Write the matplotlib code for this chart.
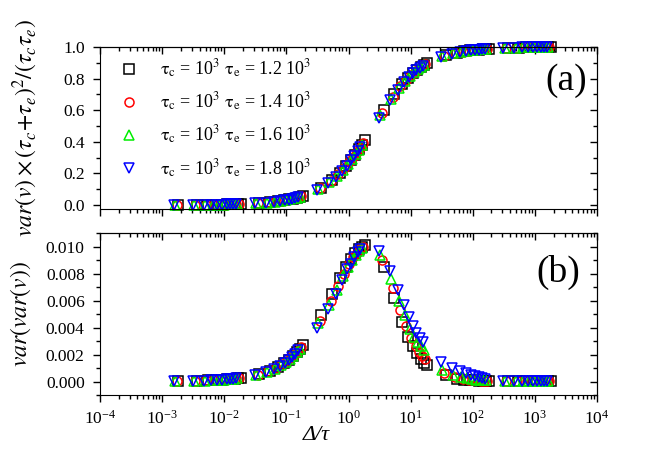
import matplotlib
matplotlib.use("Agg")
import matplotlib.pyplot as plt
from matplotlib.ticker import MultipleLocator, FormatStrFormatter, LogLocator, NullFormatter

plt.rcParams['font.family'] = ['Liberation Serif', 'DejaVu Serif']
plt.rcParams['mathtext.fontset'] = 'stix'
plt.rcParams['font.size'] = 12

labels = [r'$\mathrm{\tau_c}$ = 10$^3$ $\mathrm{\tau_e}$ = 1.2 10$^3$',
          r'$\mathrm{\tau_c}$ = 10$^3$ $\mathrm{\tau_e}$ = 1.4 10$^3$',
          r'$\mathrm{\tau_c}$ = 10$^3$ $\mathrm{\tau_e}$ = 1.6 10$^3$',
          r'$\mathrm{\tau_c}$ = 10$^3$ $\mathrm{\tau_e}$ = 1.8 10$^3$']

# x = Delta / tau for each series
x_12 = [0.00183, 0.00367, 0.0055, 0.00733, 0.00917, 0.011, 0.0128, 0.0147, 0.0165, 0.0183,
        0.0367, 0.055, 0.0733, 0.0917, 0.11, 0.128, 0.147, 0.165, 0.183,
        0.367, 0.55, 0.733, 0.917, 1.1, 1.28, 1.47, 1.65, 1.83,
        3.67, 5.5, 7.33, 9.17, 11, 12.8, 14.7, 16.5, 18.3,
        36.7, 55, 73.3, 91.7, 110, 128, 147, 165, 183,
        367, 550, 733, 917, 1100, 1280, 1470, 1650, 1830]
x_14 = [0.00171, 0.00343, 0.00514, 0.00686, 0.00857, 0.0103, 0.012, 0.0137, 0.0154, 0.0171,
        0.0343, 0.0514, 0.0686, 0.0857, 0.103, 0.12, 0.137, 0.154, 0.171,
        0.343, 0.514, 0.686, 0.857, 1.03, 1.2, 1.37, 1.54, 1.71,
        3.43, 5.14, 6.86, 8.57, 10.3, 12, 13.7, 15.4, 17.1,
        34.3, 51.4, 68.6, 85.7, 103, 120, 137, 154, 171,
        343, 514, 686, 857, 1030, 1200, 1370, 1540, 1710]
x_16 = [0.00163, 0.00325, 0.00488, 0.0065, 0.00813, 0.00975, 0.0114, 0.013, 0.0146, 0.0163,
        0.0325, 0.0488, 0.065, 0.0813, 0.0975, 0.114, 0.13, 0.146, 0.163,
        0.325, 0.488, 0.65, 0.813, 0.975, 1.14, 1.3, 1.46, 1.63,
        3.25, 4.88, 6.5, 8.13, 9.75, 11.4, 13, 14.6, 16.3,
        32.5, 48.8, 65, 81.3, 97.5, 114, 130, 146, 163,
        325, 488, 650, 813, 975, 1140, 1300, 1460, 1630]
x_18 = [0.00156, 0.00311, 0.00467, 0.00622, 0.00778, 0.00933, 0.0109, 0.0124, 0.014, 0.0156,
        0.0311, 0.0467, 0.0622, 0.0778, 0.0933, 0.109, 0.124, 0.14, 0.156,
        0.311, 0.467, 0.622, 0.778, 0.933, 1.09, 1.24, 1.4, 1.56,
        3.11, 4.67, 6.22, 7.78, 9.33, 10.9, 12.4, 14, 15.6,
        31.1, 46.7, 62.2, 77.8, 93.3, 109, 124, 140, 156,
        311, 467, 622, 778, 933, 1090, 1240, 1400, 1560]

# panel (a)
va_12 = [0.001, 0.001, 0.002, 0.002, 0.003, 0.004, 0.004, 0.005, 0.005, 0.006,
         0.012, 0.018, 0.024, 0.030, 0.036, 0.041, 0.047, 0.053, 0.058,
         0.111, 0.161, 0.206, 0.247, 0.284, 0.319, 0.352, 0.381, 0.409,
         0.599, 0.702, 0.764, 0.806, 0.835, 0.856, 0.873, 0.886, 0.897,
         0.947, 0.964, 0.973, 0.978, 0.982, 0.984, 0.986, 0.988, 0.989,
         0.995, 0.996, 0.997, 0.998, 0.998, 0.998, 0.999, 0.999, 0.999]
va_14 = [0.001, 0.001, 0.002, 0.002, 0.003, 0.003, 0.004, 0.005, 0.005, 0.006,
         0.011, 0.017, 0.023, 0.028, 0.033, 0.039, 0.044, 0.050, 0.055,
         0.105, 0.152, 0.194, 0.234, 0.270, 0.304, 0.335, 0.364, 0.391,
         0.581, 0.686, 0.751, 0.794, 0.825, 0.847, 0.865, 0.879, 0.890,
         0.943, 0.962, 0.971, 0.977, 0.981, 0.983, 0.986, 0.987, 0.988,
         0.994, 0.996, 0.997, 0.998, 0.998, 0.998, 0.999, 0.999, 0.999]
va_16 = [0.001, 0.001, 0.002, 0.002, 0.003, 0.003, 0.004, 0.004, 0.005, 0.005,
         0.011, 0.016, 0.021, 0.027, 0.032, 0.037, 0.042, 0.047, 0.052,
         0.100, 0.145, 0.186, 0.224, 0.259, 0.292, 0.322, 0.351, 0.377,
         0.567, 0.673, 0.740, 0.784, 0.816, 0.840, 0.858, 0.873, 0.885,
         0.940, 0.960, 0.970, 0.976, 0.980, 0.983, 0.985, 0.986, 0.988,
         0.994, 0.996, 0.997, 0.998, 0.998, 0.998, 0.998, 0.999, 0.999]
va_18 = [0.001, 0.001, 0.002, 0.002, 0.003, 0.003, 0.004, 0.004, 0.005, 0.005,
         0.010, 0.015, 0.020, 0.025, 0.030, 0.035, 0.040, 0.045, 0.050,
         0.096, 0.139, 0.179, 0.216, 0.250, 0.282, 0.312, 0.340, 0.366,
         0.554, 0.663, 0.730, 0.776, 0.809, 0.833, 0.852, 0.867, 0.880,
         0.938, 0.958, 0.968, 0.975, 0.979, 0.982, 0.984, 0.986, 0.987,
         0.994, 0.996, 0.997, 0.997, 0.998, 0.998, 0.998, 0.999, 0.999]

# panel (b)
vv_12 = [0.00003, 0.00005, 0.00008, 0.00011, 0.00014, 0.00016, 0.00019, 0.00022, 0.00024, 0.00027,
         0.00054, 0.00081, 0.00108, 0.00136, 0.00163, 0.0019, 0.00217, 0.00244, 0.0027,
         0.0049, 0.0065, 0.0077, 0.0085, 0.0091, 0.0095, 0.0098, 0.0100, 0.0101,
         0.00845, 0.00615, 0.0044, 0.0033, 0.0026, 0.0021, 0.00165, 0.00135, 0.00123,
         0.00045, 0.00022, 0.00014, 0.0001, 0.00008, 0.00006, 0.00005, 0.00004, 0.00004,
         0.00003, 0.00003, 0.00002, 0.00002, 0.00002, 0.00002, 0.00002, 0.00002, 0.00002]
vv_14 = [0.00003, 0.00005, 0.00008, 0.0001, 0.00013, 0.00015, 0.00018, 0.0002, 0.00023, 0.00025,
         0.00051, 0.00076, 0.00102, 0.00127, 0.00152, 0.00178, 0.00203, 0.00228, 0.00253,
         0.0045, 0.0060, 0.0071, 0.0080, 0.0087, 0.0092, 0.0095, 0.0098, 0.0100,
         0.0090, 0.0069, 0.0053, 0.0041, 0.0032, 0.0026, 0.0022, 0.0019, 0.0017,
         0.00066, 0.00033, 0.0002, 0.00014, 0.0001, 0.00008, 0.00007, 0.00006, 0.00005,
         0.00003, 0.00003, 0.00003, 0.00003, 0.00002, 0.00002, 0.00002, 0.00002, 0.00002]
vv_16 = [0.00002, 0.00005, 0.00007, 0.0001, 0.00012, 0.00014, 0.00017, 0.00019, 0.00022, 0.00024,
         0.00048, 0.00072, 0.00096, 0.0012, 0.00144, 0.00168, 0.00192, 0.00216, 0.0024,
         0.0043, 0.0057, 0.0068, 0.0078, 0.0085, 0.0090, 0.0094, 0.0097, 0.0099,
         0.0094, 0.0076, 0.0060, 0.0049, 0.0039, 0.0033, 0.0029, 0.0026, 0.0023,
         0.00088, 0.0005, 0.00033, 0.00024, 0.00018, 0.00014, 0.00011, 0.00009, 0.00008,
         0.00004, 0.00004, 0.00003, 0.00003, 0.00003, 0.00003, 0.00003, 0.00002, 0.00002]
vv_18 = [0.00002, 0.00005, 0.00007, 0.00009, 0.00012, 0.00014, 0.00016, 0.00018, 0.00021, 0.00023,
         0.00046, 0.00069, 0.00092, 0.00115, 0.00138, 0.00161, 0.00184, 0.00207, 0.0023,
         0.0040, 0.0054, 0.0065, 0.0075, 0.0083, 0.0087, 0.0092, 0.0096, 0.0098,
         0.0097, 0.0082, 0.0068, 0.0057, 0.0048, 0.0041, 0.0036, 0.0032, 0.0029,
         0.00147, 0.00103, 0.00079, 0.00063, 0.0005, 0.00042, 0.00034, 0.00027, 0.00022,
         0.00006, 0.00005, 0.00005, 0.00004, 0.00004, 0.00004, 0.00003, 0.00003, 0.00003]

xs = [x_12, x_14, x_16, x_18]
vas = [va_12, va_14, va_16, va_18]
vvs = [vv_12, vv_14, vv_16, vv_18]
markers = ['s', 'o', '^', 'v']
colors = ['black', 'red', '#00ee00', 'blue']

fig = plt.figure(figsize=(6.64, 4.65), dpi=100)
ax1 = fig.add_axes([0.1506, 0.5505, 0.7485, 0.3484])
ax2 = fig.add_axes([0.1506, 0.1505, 0.7485, 0.3484], sharex=ax1)

for x, ya, yb, m, c, lab in zip(xs, vas, vvs, markers, colors, labels):
    ax1.plot(x, ya, ls='none', marker=m, ms=6.5, mfc='none', mec=c, mew=1.1, label=lab, clip_on=False)
    ax2.plot(x, yb, ls='none', marker=m, ms=6.5, mfc='none', mec=c, mew=1.1, clip_on=False)

ax1.set_xscale('log')
ax1.set_xlim(1e-4, 1e4)
ax1.set_ylim(-0.025, 1.0)
ax2.set_ylim(-0.001, 0.011)

ax1.yaxis.set_major_locator(MultipleLocator(0.2))
ax1.yaxis.set_minor_locator(MultipleLocator(0.1))
ax1.yaxis.set_major_formatter(FormatStrFormatter('%.1f'))
ax2.yaxis.set_major_locator(MultipleLocator(0.002))
ax2.yaxis.set_minor_locator(MultipleLocator(0.001))
ax2.yaxis.set_major_formatter(FormatStrFormatter('%.3f'))

for ax in (ax1, ax2):
    ax.xaxis.set_major_locator(LogLocator(base=10, numticks=20))
    ax.xaxis.set_minor_locator(LogLocator(base=10, subs=range(2, 10), numticks=20))
    ax.xaxis.set_minor_formatter(NullFormatter())
    ax.tick_params(which='major', direction='out', length=5, width=1, labelsize=12.5, pad=6)
    ax.tick_params(which='minor', direction='out', length=3, width=1)
    top = ax.secondary_xaxis('top')
    top.xaxis.set_major_locator(LogLocator(base=10, numticks=20))
    top.xaxis.set_minor_locator(LogLocator(base=10, subs=range(2, 10), numticks=20))
    top.tick_params(which='major', direction='in', length=5, width=1, labeltop=False)
    top.tick_params(which='minor', direction='in', length=3, width=1, labeltop=False)
    right = ax.secondary_yaxis('right')
    right.yaxis.set_major_locator(ax.yaxis.get_major_locator())
    right.yaxis.set_minor_locator(ax.yaxis.get_minor_locator())
    right.tick_params(which='major', direction='in', length=5, width=1, labelright=False)
    right.tick_params(which='minor', direction='in', length=3, width=1, labelright=False)

ax1.tick_params(labelbottom=False)

ax1.set_ylabel(r'$var(v)\times(\tau_c\!+\!\tau_e)^2/(\tau_c\tau_e)$', fontsize=17)
ax2.set_ylabel(r'$var(var(v))$', fontsize=17)
ax1.yaxis.set_label_coords(-0.12, 0.5)
ax2.yaxis.set_label_coords(-0.135, 0.5)
ax2.set_xlabel('Δ/τ', fontsize=16, fontstyle='italic')
ax2.xaxis.set_label_coords(0.435, -0.19)

ax1.text(0.937, 0.79, '(a)', transform=ax1.transAxes, fontsize=27, ha='center', va='center')
ax2.text(0.922, 0.755, '(b)', transform=ax2.transAxes, fontsize=27, ha='center', va='center')

ax1.legend(loc='upper left', bbox_to_anchor=(0.04, 0.935), frameon=False, fontsize=13,
           handlelength=1.0, handletextpad=1.2, labelspacing=0.6, borderpad=0, borderaxespad=0)

fig.savefig('out.png', dpi=100)
